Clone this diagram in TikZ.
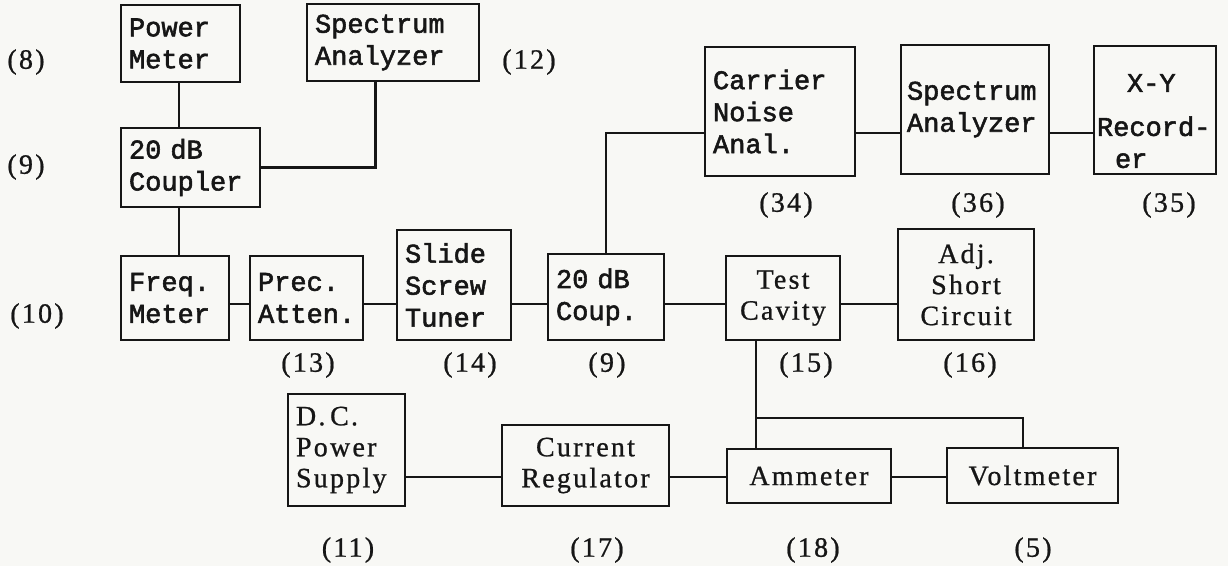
\documentclass[tikz,border=0pt]{standalone}
\usepackage{fontspec}
\usepackage{tikz}
\usetikzlibrary{calc}
\newfontfamily\typer[FakeBold=2]{Liberation Mono}
\newfontfamily\plain[LetterSpace=8, FakeBold=0.8]{Liberation Serif}
\definecolor{paper}{RGB}{248,248,245}
\definecolor{ink}{RGB}{22,22,22}
\tikzset{
  unit/.style   = {draw=ink, text=ink, line width=2.3pt, inner xsep=8pt, inner ysep=0pt,
                   align=left, font=\typer\fontsize{27}{32}\selectfont},
  unitc/.style  = {unit, align=center, font=\plain\fontsize{28}{31}\selectfont},
  tag/.style    = {text=ink, font=\plain\fontsize{28}{30}\selectfont},
  link/.style   = {draw=ink, line width=2.3pt},
}

\begin{document}
\begin{tikzpicture}[x=1pt, y=-1pt]
  \fill[paper] (0,0) rectangle (1228,566);
  \useasboundingbox (0,0) rectangle (1228,566);
  % measuring chain
  \node[unit, text width=103pt, minimum height=77pt] (pwrm) at (180.5,43.5) {Power\\Meter};
  \node[unit, text width=156pt, minimum height=77pt] (spec1) at (393,42.5) {Spectrum\\Analyzer};
  \node[unit, text width=123pt, minimum height=79pt] (coup1) at (190.5,167.5) {20 dB\\Coupler};
  \node[unit, text width=92pt, minimum height=84pt] (freq) at (175,298) {Freq.\\Meter};
  \node[unit, text width=97pt, minimum height=84pt] (atten) at (306.5,298) {Prec.\\Atten.};
  \node[unit, text width=98pt, minimum height=110pt] (tuner) at (454,285) {Slide\\Screw\\Tuner};
  \node[unit, text width=100pt, minimum height=86pt] (coup2) at (606,297) {20 dB\\Coup.};
  \node[unitc, text width=98pt, minimum height=84pt] (cavity) at (783,298) {Test\\Cavity};
  \node[unitc, text width=120pt, minimum height=111pt] (short) at (966,284.5) {Adj.\\Short\\Circuit};
  % noise branch
  \node[unit, text width=134pt, minimum height=129pt] (carrier) at (780,111.5) {Carrier\\Noise\\Anal.};
  \node[unit, text width=136pt, inner xsep=6pt, minimum height=129pt] (spec2) at (975,109.5) {Spectrum\\Analyzer};
  \node[unit, text width=116pt, inner xsep=3pt, minimum height=128pt] (xyrec) at (1155,110)
    {\rule{0pt}{40pt}\hspace*{30pt}X-Y\\[12pt]Record-\\{\hskip18pt}er};
  % bias circuit
  \node[unitc, align=left, text width=101pt, minimum height=112pt] (dcps) at (346.5,450) {D.\,C.\\Power\\Supply};
  \node[unitc, text width=151pt, minimum height=81pt] (curreg) at (585.5,465.5) {Current\\Regulator};
  \node[unitc, text width=148pt, minimum height=54pt] (amm) at (809,476) {Ammeter};
  \node[unitc, text width=155pt, minimum height=55pt] (volt) at (1032.5,475.5) {Voltmeter};

  % item numbers
  \node[tag] (n8)  at (26,62)    {(8)};
  \node[tag] (n9a) at (26,167)   {(9)};
  \node[tag] (n10) at (37,316)   {(10)};
  \node[tag] (n12) at (529,62)   {(12)};
  \node[tag] (n13) at (308,365)  {(13)};
  \node[tag] (n14) at (470,365)  {(14)};
  \node[tag] (n9b) at (607,365)  {(9)};
  \node[tag] (n15) at (806,365)  {(15)};
  \node[tag] (n16) at (970,365)  {(16)};
  \node[tag] (n34) at (786,205)  {(34)};
  \node[tag] (n36) at (978,205)  {(36)};
  \node[tag] (n35) at (1169,205) {(35)};
  \node[tag] (n11) at (348,550)  {(11)};
  \node[tag] (n17) at (597,550)  {(17)};
  \node[tag] (n18) at (813,550)  {(18)};
  \node[tag] (n5)  at (1033,550) {(5)};

  % rows the connectors run on
  \coordinate (busb) at (0,304);
  \coordinate (busa) at (0,133);
  \coordinate (busc) at (0,477);
  \coordinate (drop) at (756,418);
  \coordinate (vtap) at (1023,418);

  \draw[link] (pwrm.south -| 179,0) -- (coup1.north -| 179,0);
  \draw[link] (coup1.south -| 179,0) -- (freq.north -| 179,0);
  \draw[link] (coup1.east) -| ($(spec1.south west)!0.4!(spec1.south east)$);
  \draw[link] (freq.east |- busb) -- (atten.west |- busb);
  \draw[link] (atten.east |- busb) -- (tuner.west |- busb);
  \draw[link] (tuner.east |- busb) -- (coup2.west |- busb);
  \draw[link] (coup2.east |- busb) -- (cavity.west |- busb);
  \draw[link] (cavity.east |- busb) -- (short.west |- busb);
  \draw[link] (coup2.north) |- (carrier.west |- busa);
  \draw[link] (carrier.east |- busa) -- (spec2.west |- busa);
  \draw[link] (spec2.east |- busa) -- (xyrec.west |- busa);
  \draw[link] (cavity.south -| drop) -- (amm.north -| drop);
  \draw[link] (drop) -- (vtap) -- (vtap |- volt.north);
  \draw[link] (dcps.east |- busc) -- (curreg.west |- busc);
  \draw[link] (curreg.east |- busc) -- (amm.west |- busc);
  \draw[link] (amm.east |- busc) -- (volt.west |- busc);
\end{tikzpicture}
\end{document}
